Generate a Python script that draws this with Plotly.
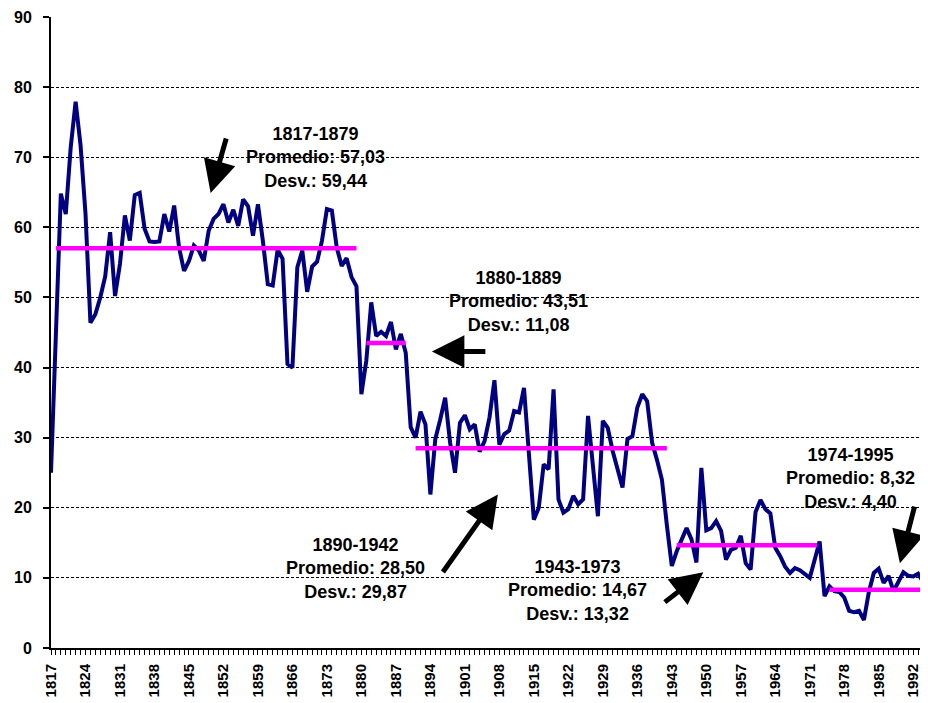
import plotly.graph_objects as go

# ---------------- data ----------------
years = list(range(1817, 1996))
values = [
    # 1817-1826
    25.0, 46.0, 64.8, 61.9, 71.4, 77.9, 71.7, 62.0, 46.4, 47.6,
    # 1827-1836
    50.0, 53.0, 59.3, 50.2, 54.8, 61.7, 58.1, 64.6, 64.9, 59.8,
    # 1837-1846
    58.0, 57.9, 58.0, 61.9, 59.4, 63.1, 57.1, 53.8, 55.2, 57.4,
    # 1847-1856
    56.7, 55.2, 59.5, 61.2, 61.9, 63.3, 60.7, 62.5, 60.2, 64.0,
    # 1857-1866
    63.0, 58.8, 63.3, 58.1, 51.9, 51.7, 56.8, 55.5, 40.5, 40.0,
    # 1867-1876
    54.3, 56.7, 50.8, 54.4, 55.1, 58.1, 62.6, 62.4, 57.1, 54.5,
    # 1877-1886
    55.6, 52.9, 51.6, 36.2, 41.0, 49.3, 44.5, 45.1, 44.5, 46.5,
    # 1887-1896
    42.6, 44.8, 42.1, 31.5, 30.0, 33.7, 31.9, 21.9, 29.8, 32.6,
    # 1897-1906
    35.7, 29.3, 25.0, 32.1, 33.2, 31.2, 31.9, 28.0, 29.5, 32.9,
    # 1907-1916
    38.2, 29.0, 30.5, 31.0, 33.8, 33.6, 37.1, 27.7, 18.3, 20.0,
    # 1917-1926
    26.2, 25.5, 36.9, 21.2, 19.3, 19.8, 21.7, 20.5, 21.2, 33.1,
    # 1927-1936
    26.5, 18.8, 32.4, 31.4, 28.1, 25.5, 22.9, 29.8, 30.2, 34.3,
    # 1937-1946
    36.2, 35.2, 29.3, 26.8, 24.0, 17.5, 11.7, 13.8, 15.5, 17.1,
    # 1947-1956
    15.5, 12.2, 25.7, 16.8, 17.1, 18.1, 16.7, 12.6, 14.0, 14.3,
    # 1957-1966
    16.0, 12.1, 11.2, 19.4, 21.1, 19.8, 19.2, 14.3, 13.1, 11.6,
    # 1967-1976
    10.7, 11.4, 11.1, 10.5, 10.0, 12.6, 15.2, 7.4, 8.8, 8.1,
    # 1977-1986
    8.0, 7.2, 5.3, 5.1, 5.3, 4.0, 8.0, 10.7, 11.3, 9.3,
    # 1987-1995
    10.3, 8.1, 9.5, 10.8, 10.3, 10.2, 10.6, 9.4, 9.5,
]
assert len(values) == len(years)

# period means (horizontal reference lines)
period_labels = ["1817-1879", "1880-1889", "1890-1942", "1943-1973", "1974-1995"]
period_means = [57.03, 43.51, 28.50, 14.67, 8.32]
period_desv = ["59,44", "11,08", "29,87", "13,32", "4,40"]
period_line_from = [1818, 1881, 1891, 1944, 1975]
period_line_to = [1879, 1889, 1942, 1972.5, 1995]

tick_years = list(range(1817, 1996, 7))
y_ticks = list(range(0, 91, 10))

# ---------------- figure ----------------
FONT = "Liberation Sans, Arial, sans-serif"
fig = go.Figure()

fig.add_trace(go.Scatter(
    x=years, y=values, mode="lines",
    line=dict(color="#000080", width=4),
    showlegend=False, hoverinfo="skip",
))

for x0, x1, m in zip(period_line_from, period_line_to, period_means):
    fig.add_trace(go.Scatter(
        x=[x0, x1], y=[m, m], mode="lines",
        line=dict(color="#FF00FF", width=4.5),
        showlegend=False, hoverinfo="skip",
    ))

# text blocks (centre year, centre value)
text_pos = [(1870.6, 70.0), (1911.9, 49.4), (1878.9, 11.4), (1923.9, 8.2), (1979.2, 24.2)]
for (tx, ty), lab, m, d in zip(text_pos, period_labels, period_means, period_desv):
    mtxt = f"{m:.2f}".replace(".", ",")
    fig.add_annotation(
        x=tx, y=ty, xref="x", yref="y", showarrow=False,
        text=f"<b>{lab}</b><br><b>Promedio: {mtxt}</b><br><b>Desv.: {d}</b>",
        font=dict(family=FONT, size=18, color="black"),
        align="center", xanchor="center", yanchor="middle",
    )

# arrows: tip (year, value) and tail offset in pixels
arrows = [
    (1849.4, 64.9, 16, -56),
    (1894.3, 42.3, 55, 0),
    (1907.7, 21.9, -56, 79),
    (1949.4, 10.8, -40, 31),
    (1989.3, 12.1, 15, -58),
]
for x, y, ax, ay in arrows:
    fig.add_annotation(
        x=x, y=y, xref="x", yref="y", text="", showarrow=True,
        ax=ax, ay=ay, arrowhead=2, arrowsize=1.3, arrowwidth=5,
        arrowcolor="black", standoff=0,
    )

# the page adds an 8px body margin, so the figure is 8px smaller
fig.update_layout(
    width=920, height=695,
    margin=dict(l=43, r=0, t=9, b=55, autoexpand=False),
    paper_bgcolor="white", plot_bgcolor="white",
    font=dict(family=FONT, color="black"),
    showlegend=False,
)

fig.update_xaxes(
    range=[1817, 1995],
    automargin=False,
    tickmode="array", tickvals=tick_years, ticktext=[str(t) for t in tick_years],
    tickangle=-90,
    tickfont=dict(family=FONT, size=15, color="black", weight="bold"),
    ticks="outside", ticklen=5, tickwidth=1, tickcolor="black",
    minor=dict(tick0=1817, dtick=1, ticks="outside", ticklen=5, tickwidth=1,
               tickcolor="black", showgrid=False),
    ticklabelstandoff=3,
    showline=True, linecolor="black", linewidth=2,
    showgrid=False, zeroline=False,
)

fig.update_yaxes(
    range=[0, 90],
    automargin=False,
    tickmode="array", tickvals=y_ticks,
    tickfont=dict(family=FONT, size=16, color="black", weight="bold"),
    ticks="outside", ticklen=6, tickwidth=2, tickcolor="black",
    ticklabelstandoff=8,
    showline=True, linecolor="black", linewidth=2,
    showgrid=True, gridcolor="black", gridwidth=1, griddash="3px,2px",
    zeroline=False,
)

fig.write_html("out.html")
